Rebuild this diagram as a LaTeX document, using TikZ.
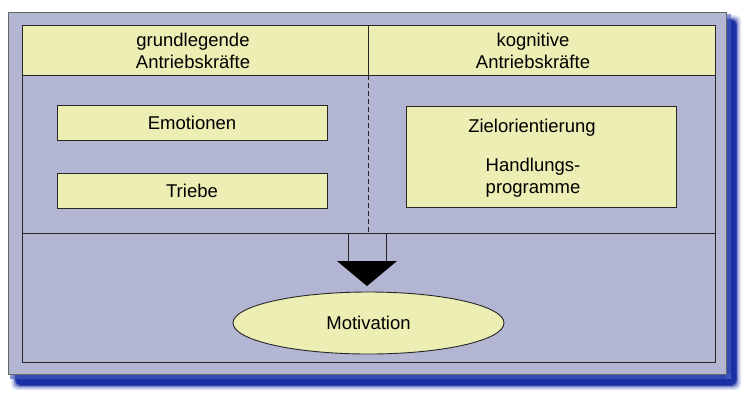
\documentclass[tikz,border=0pt]{standalone}
\usepackage{fontspec}
\setmainfont{Liberation Sans}
\usetikzlibrary{shapes.geometric}
\definecolor{lav}{RGB}{178,182,211}
\definecolor{yel}{RGB}{236,238,180}
\definecolor{shad}{RGB}{28,48,165}
\definecolor{shadl}{RGB}{70,90,190}
\begin{document}
\begin{tikzpicture}[x=1pt,y=-1pt,
  font=\fontsize{18.5}{21.7}\selectfont,
  line/.style={draw=black!85, line width=0.9pt},
  box/.style={line, fill=yel, minimum width=270pt, inner sep=0pt},
  lbl/.style={align=center, inner sep=0pt}]
\useasboundingbox (0,0) rectangle (743,392);
\fill[white] (0,0) rectangle (743,392);
% shadow
\foreach \d/\o in {5/0.12,3.5/0.22,2/0.4,0.8/0.7,0/1}{
  \fill[shad, opacity=\o, rounded corners=5pt] (16-\d,20-\d) rectangle (736+\d,385+\d);
}
\fill[shadl, opacity=0.6] (726,14) rectangle (731,379);
\fill[shadl, opacity=0.6] (10,374) rectangle (731,379);
% outer panel
\fill[lav] (8,12) rectangle (726,374);
\draw[draw=black!60, line width=0.6pt] (8,12) rectangle (726,374);
% header band
\fill[yel] (22,25) rectangle (715,75);
\draw[line] (22,25) rectangle (715,362);
\draw[line] (22,75) -- (715,75);
\draw[line] (22,233) -- (715,233);
\coordinate (dtop) at (368,25);
\coordinate (dmid) at (368,75);
\coordinate (dbot) at (368,233);
\draw[line] (dtop) -- (dmid);
\draw[line, dash pattern=on 5pt off 3pt] (dmid) -- (dbot);
% header labels
\node[lbl] (grund) at (193,51) {grundlegende\\Antriebskr\"afte};
\node[lbl] (kogn) at (533,51) {kognitive\\Antriebskr\"afte};
% left boxes
\node[box, minimum height=35pt] (emo) at (192,122.5) {Emotionen};
\node[box, minimum height=35pt] (trieb) at (192,190.5) {Triebe};
% right box
\node[box, minimum height=101pt] (rbox) at (541.5,156.5) {};
\node[lbl] (ziel) at (532,127.3) {Zielorientierung};
\node[lbl, font=\fontsize{18.5}{22}\selectfont] (handl) at (533,177.3) {Handlungs-\\programme};
% arrow
\coordinate (sl) at (348,233);
\coordinate (sr) at (386,233);
\coordinate (sl2) at (348,261);
\coordinate (sr2) at (386,261);
\draw[line] (sl) -- (sl2);
\draw[line] (sr) -- (sr2);
\fill[black] (337,261) -- (397,261) -- (367,286) -- cycle;
% motivation
\node[line, ellipse, fill=yel, minimum width=271pt, minimum height=62pt, inner sep=0pt] (mot) at (368.5,323) {Motivation};
\end{tikzpicture}
\end{document}
